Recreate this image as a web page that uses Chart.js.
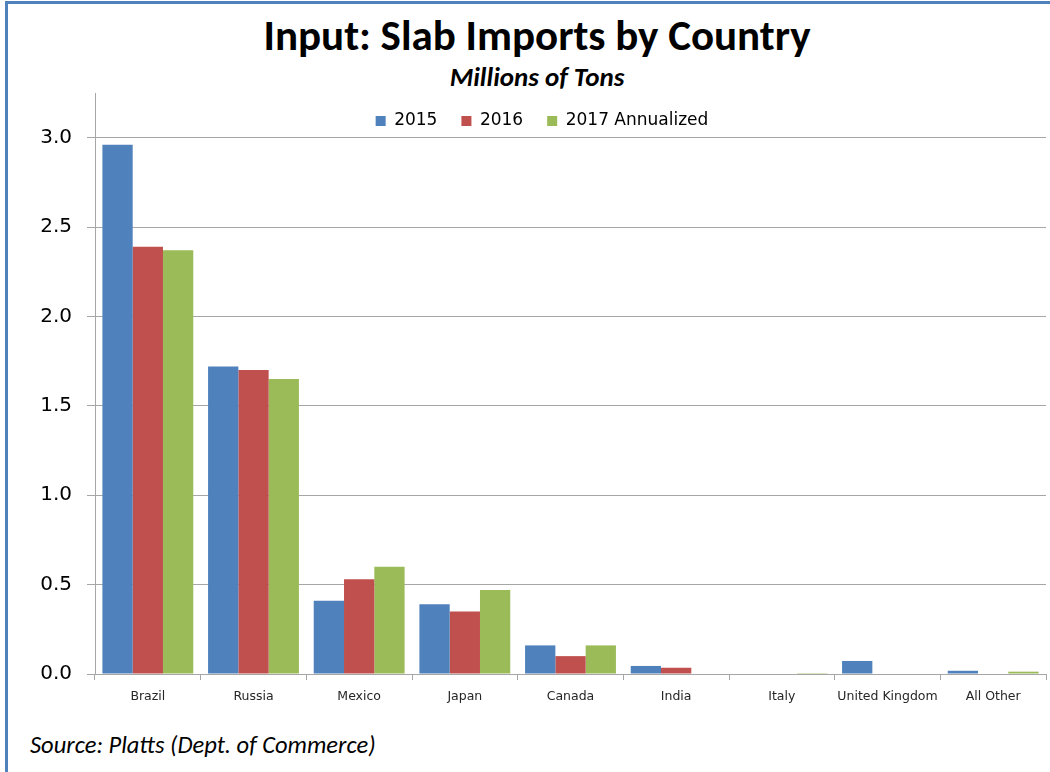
<!DOCTYPE html>
<html>
<head>
<meta charset="utf-8">
<script src="https://cdn.jsdelivr.net/npm/chart.js@4"></script>
<style>
  html, body { margin: 0; padding: 0; background: #fff; width: 1050px; height: 772px; overflow: hidden; }
  #frame { position: absolute; left: 5px; top: 1px; width: 1100px; height: 800px;
           border-left: 3px solid #4f81bd; border-top: 3px solid #4f81bd; }
  #chart { position: absolute; left: 0; top: 0; }
  .title { position: absolute; left: 0; width: 1074px; text-align: center; color: #000; white-space: nowrap; }
  #t1 { top: 10px; font: bold 43px/1.2 Carlito, Lato, sans-serif; }
  #t2 { top: 61px; font: italic bold 27px/1.2 Carlito, Lato, sans-serif; }
  #src { position: absolute; left: 30px; top: 731px; font: italic 24.5px/1.2 Carlito, Lato, sans-serif; color: #000; white-space: nowrap; }
</style>
</head>
<body>
<div id="frame"></div>
<div class="title" id="t1">Input: Slab Imports by Country</div>
<div class="title" id="t2">Millions of Tons</div>
<div id="src">Source: Platts (Dept. of Commerce)</div>
<canvas id="chart" width="1050" height="772"></canvas>
<script>
// Slab imports, millions of tons
const countries = ['Brazil', 'Russia', 'Mexico', 'Japan', 'Canada', 'India', 'Italy', 'United Kingdom', 'All Other'];
const imports2015 = [2.96, 1.72, 0.41, 0.39, 0.16, 0.045, 0, 0.073, 0.018];
const imports2016 = [2.39, 1.70, 0.53, 0.35, 0.10, 0.035, 0, 0, 0];
const imports2017 = [2.37, 1.65, 0.60, 0.47, 0.16, 0, 0.005, 0, 0.013];
const seriesNames = ['2015', '2016', '2017 Annualized'];
const yTicks = [0, 0.5, 1.0, 1.5, 2.0, 2.5, 3.0];

const colors = ['#4f81bd', '#c0504d', '#9bbb59'];
const gridGray = '#a6a6a6';

// The legend takes no layout space and is drawn inside the top of the plot
const legendInPlot = {
  id: 'legendInPlot',
  beforeLayout(chart) {
    const lg = chart.legend;
    if (lg && !lg._noSpace) {
      const fit = lg.fit.bind(lg);
      lg.fit = function () { fit(); this.height = 0; };
      lg._noSpace = true;
    }
  },
  afterLayout(chart) {
    const lg = chart.legend;
    if (!lg || !lg.legendHitBoxes || !lg.legendHitBoxes.length) return;
    const dx = 542 - (lg.left + lg.right) / 2;
    lg.left += dx; lg.right += dx;
    const itemH = lg.legendHitBoxes[0].height;
    const pad = lg.options.labels.padding;
    lg.top = 121 - pad - itemH / 2;
    lg.height = pad * 2 + itemH + 10;
    lg.bottom = lg.top + lg.height;
  }
};

new Chart(document.getElementById('chart'), {
  type: 'bar',
  data: {
    labels: countries,
    datasets: [imports2015, imports2016, imports2017].map((d, i) => ({
      label: seriesNames[i],
      data: d,
      backgroundColor: colors[i],
      borderWidth: 0,
      categoryPercentage: 0.86,
      barPercentage: 1.0
    }))
  },
  options: {
    responsive: false,
    animation: false,
    devicePixelRatio: 1,
    layout: { padding: { left: 10, top: 93, right: 4, bottom: 68 } },
    plugins: {
      legend: {
        position: 'top',
        align: 'center',
        labels: {
          boxWidth: 10, boxHeight: 10, padding: 24,
          color: '#000',
          font: { family: 'DejaVu Sans', size: 17 }
        }
      },
      tooltip: { enabled: false },
      title: { display: false }
    },
    scales: {
      x: {
        grid: { display: true, drawOnChartArea: false, drawTicks: true, tickLength: 6, color: gridGray, offset: true },
        border: { color: gridGray },
        ticks: { color: '#262626', padding: 9, font: { family: 'DejaVu Sans', size: 12.5 }, maxRotation: 0, autoSkip: false },
        afterFit(s) { s.height = 30; }
      },
      y: {
        min: 0, max: 3.25,
        grid: { color: gridGray, tickLength: 8 },
        border: { color: gridGray },
        ticks: {
          color: '#000', padding: 15,
          font: { family: 'DejaVu Sans', size: 20 },
          callback: v => Number(v).toFixed(1)
        },
        afterBuildTicks(s) { s.ticks = yTicks.map(v => ({ value: v })); },
        afterFit(s) { s.width = 85; }
      }
    }
  },
  plugins: [legendInPlot]
});
</script>
</body>
</html>
